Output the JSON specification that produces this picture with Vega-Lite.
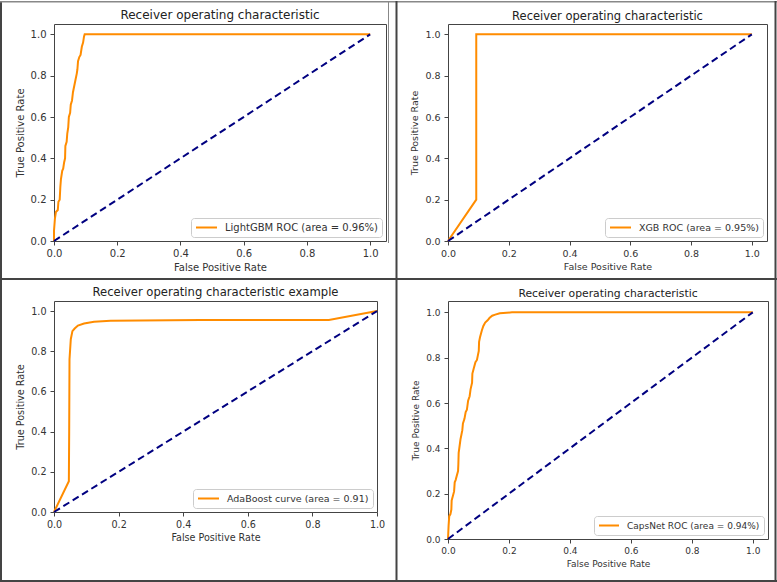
{
  "$schema": "https://vega.github.io/schema/vega-lite/v6.json",
  "padding": {"left": -2, "top": -1, "right": 0, "bottom": 0},
  "background": "white",
  "columns": 2,
  "bounds": "flush",
  "spacing": {"row": 60, "column": 62},
  "resolve": {"scale": {"color": "independent"}, "legend": {"color": "independent"}},
  "config": {
    "font": "DejaVu Sans",
    "view": {"stroke": "#444", "strokeWidth": 1},
    "axis": {
      "grid": false, "domain": false, "tickColor": "#444", "tickSize": 4,
      "labelFontSize": 10, "labelColor": "#333", "labelPadding": 3, "labelFlush": false,
      "titleFontSize": 10, "titleFontWeight": "normal", "titleColor": "#333", "titlePadding": 4
    },
    "axisY": {"labelPadding": 4, "titlePadding": 5},
    "title": {"fontSize": 12, "fontWeight": "normal", "color": "#222", "offset": 2},
    "legend": {
      "orient": "bottom-right", "offset": 4, "padding": 4, "strokeColor": "#ccc",
      "fillColor": "white", "cornerRadius": 3, "symbolType": "stroke", "symbolSize": 441,
      "symbolStrokeWidth": 2, "labelFontSize": 10, "labelColor": "#333", "labelOffset": 7,
      "clipHeight": 11
    }
  },
  "datasets": {
    "anchor": [{}],
    "chance": [{"fpr": 0, "tpr": 0}, {"fpr": 1, "tpr": 1}],
    "lightgbm": [
      {"fpr": 0, "tpr": 0}, {"fpr": 0, "tpr": 0.05}, {"fpr": 0.003, "tpr": 0.11}, {"fpr": 0.006, "tpr": 0.14},
      {"fpr": 0.012, "tpr": 0.15}, {"fpr": 0.014, "tpr": 0.19}, {"fpr": 0.018, "tpr": 0.2}, {"fpr": 0.02, "tpr": 0.26},
      {"fpr": 0.022, "tpr": 0.3}, {"fpr": 0.026, "tpr": 0.34}, {"fpr": 0.029, "tpr": 0.35}, {"fpr": 0.032, "tpr": 0.38},
      {"fpr": 0.035, "tpr": 0.4}, {"fpr": 0.036, "tpr": 0.46}, {"fpr": 0.04, "tpr": 0.48}, {"fpr": 0.042, "tpr": 0.52},
      {"fpr": 0.045, "tpr": 0.55}, {"fpr": 0.047, "tpr": 0.6}, {"fpr": 0.051, "tpr": 0.62}, {"fpr": 0.053, "tpr": 0.66},
      {"fpr": 0.057, "tpr": 0.68}, {"fpr": 0.06, "tpr": 0.72}, {"fpr": 0.064, "tpr": 0.75}, {"fpr": 0.068, "tpr": 0.78},
      {"fpr": 0.072, "tpr": 0.81}, {"fpr": 0.074, "tpr": 0.83}, {"fpr": 0.076, "tpr": 0.87}, {"fpr": 0.08, "tpr": 0.89},
      {"fpr": 0.084, "tpr": 0.9}, {"fpr": 0.088, "tpr": 0.94}, {"fpr": 0.092, "tpr": 0.96}, {"fpr": 0.095, "tpr": 0.99},
      {"fpr": 0.097, "tpr": 1.0}, {"fpr": 1.0, "tpr": 1.0}
    ],
    "xgb": [
      {"fpr": 0, "tpr": 0}, {"fpr": 0.093, "tpr": 0.2}, {"fpr": 0.093, "tpr": 1.0}, {"fpr": 1.0, "tpr": 1.0}
    ],
    "adaboost": [
      {"fpr": 0, "tpr": 0}, {"fpr": 0.046, "tpr": 0.153}, {"fpr": 0.047, "tpr": 0.4}, {"fpr": 0.048, "tpr": 0.76},
      {"fpr": 0.052, "tpr": 0.86}, {"fpr": 0.057, "tpr": 0.9}, {"fpr": 0.064, "tpr": 0.913}, {"fpr": 0.074, "tpr": 0.928},
      {"fpr": 0.093, "tpr": 0.938}, {"fpr": 0.124, "tpr": 0.947}, {"fpr": 0.175, "tpr": 0.952}, {"fpr": 0.454, "tpr": 0.955},
      {"fpr": 0.851, "tpr": 0.955}, {"fpr": 1.0, "tpr": 1.0}
    ],
    "capsnet": [
      {"fpr": 0, "tpr": 0}, {"fpr": 0.002, "tpr": 0.06}, {"fpr": 0.004, "tpr": 0.1}, {"fpr": 0.008, "tpr": 0.11},
      {"fpr": 0.011, "tpr": 0.13}, {"fpr": 0.012, "tpr": 0.17}, {"fpr": 0.016, "tpr": 0.19}, {"fpr": 0.02, "tpr": 0.21},
      {"fpr": 0.022, "tpr": 0.25}, {"fpr": 0.025, "tpr": 0.26}, {"fpr": 0.029, "tpr": 0.28}, {"fpr": 0.033, "tpr": 0.3},
      {"fpr": 0.034, "tpr": 0.33}, {"fpr": 0.035, "tpr": 0.38}, {"fpr": 0.037, "tpr": 0.4}, {"fpr": 0.041, "tpr": 0.44},
      {"fpr": 0.044, "tpr": 0.46}, {"fpr": 0.047, "tpr": 0.48}, {"fpr": 0.049, "tpr": 0.51}, {"fpr": 0.054, "tpr": 0.53},
      {"fpr": 0.058, "tpr": 0.56}, {"fpr": 0.062, "tpr": 0.57}, {"fpr": 0.066, "tpr": 0.61}, {"fpr": 0.071, "tpr": 0.63},
      {"fpr": 0.074, "tpr": 0.66}, {"fpr": 0.079, "tpr": 0.69}, {"fpr": 0.08, "tpr": 0.73}, {"fpr": 0.084, "tpr": 0.75},
      {"fpr": 0.09, "tpr": 0.78}, {"fpr": 0.095, "tpr": 0.79}, {"fpr": 0.098, "tpr": 0.81}, {"fpr": 0.101, "tpr": 0.83},
      {"fpr": 0.102, "tpr": 0.87}, {"fpr": 0.105, "tpr": 0.89}, {"fpr": 0.111, "tpr": 0.92}, {"fpr": 0.116, "tpr": 0.94},
      {"fpr": 0.122, "tpr": 0.955}, {"fpr": 0.13, "tpr": 0.965}, {"fpr": 0.136, "tpr": 0.975}, {"fpr": 0.145, "tpr": 0.985},
      {"fpr": 0.155, "tpr": 0.99}, {"fpr": 0.17, "tpr": 0.996}, {"fpr": 0.21, "tpr": 1.0}, {"fpr": 1.0, "tpr": 1.0}
    ]
  },
  "concat": [
    {
      "width": 332, "height": 217,
      "title": {"text": "Receiver operating characteristic", "dy": 24},
      "layer": [
        {
          "data": {"name": "lightgbm"},
          "mark": {"type": "line", "strokeWidth": 2},
          "encoding": {
            "x": {"field": "fpr", "type": "quantitative", "scale": {"domain": [0, 1.05], "nice": false},
                  "axis": {"values": [0, 0.2, 0.4, 0.6, 0.8, 1], "format": ".1f", "title": "False Positive Rate"}},
            "y": {"field": "tpr", "type": "quantitative", "scale": {"domain": [0, 1.05], "nice": false},
                  "axis": {"values": [0, 0.2, 0.4, 0.6, 0.8, 1], "format": ".1f", "title": "True Positive Rate"}},
            "color": {"datum": "LightGBM ROC (area = 0.96%)", "scale": {"range": ["#ff8c00"]}, "legend": {"title": null}},
            "order": {"value": null}
          }
        },
        {
          "data": {"name": "chance"},
          "mark": {"type": "line", "strokeWidth": 2, "strokeDash": [7, 4], "color": "#000080"},
          "encoding": {"x": {"field": "fpr", "type": "quantitative"}, "y": {"field": "tpr", "type": "quantitative"}}
        },
        {
          "description": "outer frame, left edge",
          "data": {"name": "anchor"},
          "mark": {"type": "rule", "color": "#444", "strokeWidth": 2},
          "encoding": {"x": {"datum": -0.16762}, "y": {"datum": 1.16129}, "y2": {"datum": -1.65484}}
        },
        {
          "description": "outer frame, top edge",
          "data": {"name": "anchor"},
          "mark": {"type": "rule", "color": "#888", "strokeWidth": 1.5},
          "encoding": {"y": {"datum": 1.15766}, "x": {"datum": -0.17078}, "x2": {"datum": 2.28963}}
        },
        {
          "description": "outer frame, right edge",
          "data": {"name": "anchor"},
          "mark": {"type": "rule", "color": "#444", "strokeWidth": 2},
          "encoding": {"x": {"datum": 2.28185}, "y": {"datum": 1.16129}, "y2": {"datum": -1.65484}}
        },
        {
          "description": "outer frame, bottom edge",
          "data": {"name": "anchor"},
          "mark": {"type": "rule", "color": "#444", "strokeWidth": 2},
          "encoding": {"y": {"datum": -1.64516}, "x": {"datum": -0.17078}, "x2": {"datum": 2.28963}}
        },
        {
          "description": "vertical divider between columns",
          "data": {"name": "anchor"},
          "mark": {"type": "rule", "color": "#444", "strokeWidth": 2},
          "encoding": {"x": {"datum": 1.08321}, "y": {"datum": 1.16129}, "y2": {"datum": -1.65484}}
        },
        {
          "description": "horizontal divider between rows",
          "data": {"name": "anchor"},
          "mark": {"type": "rule", "color": "#444", "strokeWidth": 2},
          "encoding": {"y": {"datum": -0.18387}, "x": {"datum": -0.17078}, "x2": {"datum": 2.28963}}
        },
        {
          "description": "thin edge of the first panel",
          "data": {"name": "anchor"},
          "mark": {"type": "rule", "color": "#888", "strokeWidth": 1},
          "encoding": {"x": {"datum": 1.05791}, "y": {"datum": 1.16129}, "y2": {"datum": -0.00968}}
        }
      ]
    },
    {
      "width": 319, "height": 217,
      "title": {"text": "Receiver operating characteristic", "fontSize": 11.5},
      "layer": [
        {
          "data": {"name": "xgb"},
          "mark": {"type": "line", "strokeWidth": 2},
          "encoding": {
            "x": {"field": "fpr", "type": "quantitative", "scale": {"domain": [0, 1.05], "nice": false},
                  "axis": {"values": [0, 0.2, 0.4, 0.6, 0.8, 1], "format": ".1f", "title": "False Positive Rate", "labelFontSize": 9.5, "titleFontSize": 9.5}},
            "y": {"field": "tpr", "type": "quantitative", "scale": {"domain": [0, 1.05], "nice": false},
                  "axis": {"values": [0, 0.2, 0.4, 0.6, 0.8, 1], "format": ".1f", "title": "True Positive Rate", "labelFontSize": 9.5, "titleFontSize": 9.5}},
            "color": {"datum": "XGB ROC (area = 0.95%)", "scale": {"range": ["#ff8c00"]}, "legend": {"title": null, "labelFontSize": 9.5}},
            "order": {"value": null}
          }
        },
        {
          "data": {"name": "chance"},
          "mark": {"type": "line", "strokeWidth": 2, "strokeDash": [7, 4], "color": "#000080"},
          "encoding": {"x": {"field": "fpr", "type": "quantitative"}, "y": {"field": "tpr", "type": "quantitative"}}
        }
      ]
    },
    {
      "width": 323, "height": 211,
      "title": {"text": "Receiver operating characteristic example", "fontSize": 11.6},
      "layer": [
        {
          "data": {"name": "adaboost"},
          "mark": {"type": "line", "strokeWidth": 2},
          "encoding": {
            "x": {"field": "fpr", "type": "quantitative", "scale": {"domain": [0, 1], "nice": false},
                  "axis": {"values": [0, 0.2, 0.4, 0.6, 0.8, 1], "format": ".1f", "title": "False Positive Rate", "labelFontSize": 9.6, "titleFontSize": 9.6}},
            "y": {"field": "tpr", "type": "quantitative", "scale": {"domain": [0, 1.05], "nice": false},
                  "axis": {"values": [0, 0.2, 0.4, 0.6, 0.8, 1], "format": ".1f", "title": "True Positive Rate", "labelFontSize": 9.6, "titleFontSize": 9.6}},
            "color": {"datum": "AdaBoost curve (area = 0.91)", "scale": {"range": ["#ff8c00"]}, "legend": {"title": null, "labelFontSize": 9.5}},
            "order": {"value": null}
          }
        },
        {
          "data": {"name": "chance"},
          "mark": {"type": "line", "strokeWidth": 2, "strokeDash": [7, 4], "color": "#000080"},
          "encoding": {"x": {"field": "fpr", "type": "quantitative"}, "y": {"field": "tpr", "type": "quantitative"}}
        }
      ]
    },
    {
      "width": 320, "height": 238,
      "title": {"text": "Receiver operating characteristic", "fontSize": 10.8},
      "layer": [
        {
          "data": {"name": "capsnet"},
          "mark": {"type": "line", "strokeWidth": 2},
          "encoding": {
            "x": {"field": "fpr", "type": "quantitative", "scale": {"domain": [0, 1.05], "nice": false},
                  "axis": {"values": [0, 0.2, 0.4, 0.6, 0.8, 1], "format": ".1f", "title": "False Positive Rate", "labelFontSize": 9, "titleFontSize": 9}},
            "y": {"field": "tpr", "type": "quantitative", "scale": {"domain": [0, 1.05], "nice": false},
                  "axis": {"values": [0, 0.2, 0.4, 0.6, 0.8, 1], "format": ".1f", "title": "True Positive Rate", "labelFontSize": 9, "titleFontSize": 9}},
            "color": {"datum": "CapsNet ROC (area = 0.94%)", "scale": {"range": ["#ff8c00"]}, "legend": {"title": null, "labelFontSize": 9, "symbolSize": 400}},
            "order": {"value": null}
          }
        },
        {
          "data": {"name": "chance"},
          "mark": {"type": "line", "strokeWidth": 2, "strokeDash": [7, 4], "color": "#000080"},
          "encoding": {"x": {"field": "fpr", "type": "quantitative"}, "y": {"field": "tpr", "type": "quantitative"}}
        }
      ]
    }
  ]
}
